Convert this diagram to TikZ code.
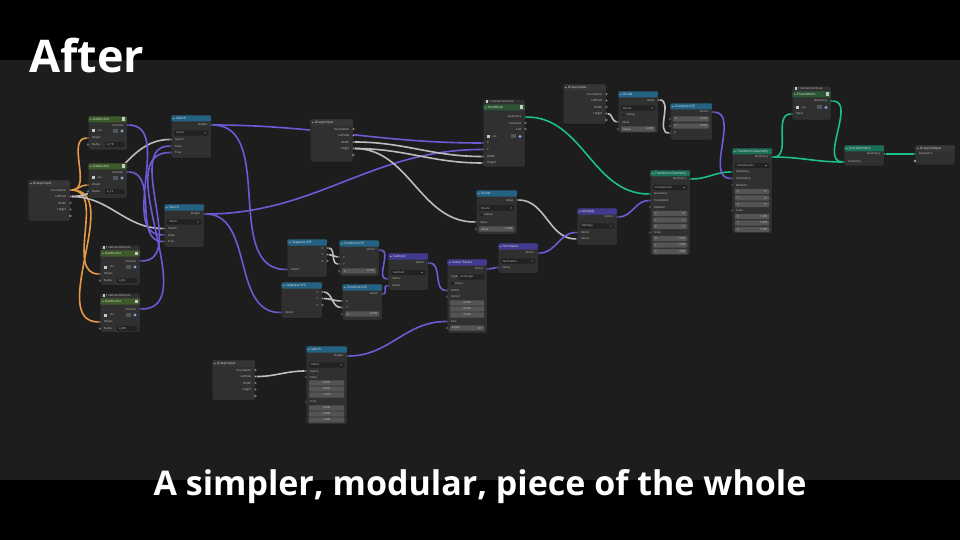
\documentclass[tikz,border=0pt]{standalone}
\usepackage{fontspec}
\setmainfont{Open Sans}
\usetikzlibrary{calc, positioning}
\pgfdeclarelayer{bg}
\pgfdeclarelayer{wires}
\pgfsetlayers{bg,wires,main}

\definecolor{panel}{HTML}{1D1D1D}
\definecolor{nodegray}{HTML}{303030}
\definecolor{nodeedge}{HTML}{141414}
\definecolor{labelgray}{HTML}{C8C8C8}
\definecolor{fieldgray}{HTML}{545454}
\definecolor{dropgray}{HTML}{222222}
\definecolor{hdrgray}{HTML}{363636}
\definecolor{convblue}{HTML}{246283}
\definecolor{vecpurple}{HTML}{413A8E}
\definecolor{anchorgreen}{HTML}{3D5A2A}
\definecolor{nestgreen}{HTML}{2C5634}
\definecolor{geomgreen}{HTML}{1B6E57}
\definecolor{vecc}{HTML}{6363C7}
\definecolor{floatc}{HTML}{A1A1A1}
\definecolor{geoc}{HTML}{00D6A3}
\definecolor{objc}{HTML}{ED9E5C}
\definecolor{strc}{HTML}{70B2FF}
\definecolor{boolc}{HTML}{CCA6D6}
\definecolor{iconblue}{HTML}{7FA8E0}
\definecolor{wvec}{HTML}{6B5BD6}
\definecolor{wfloat}{HTML}{BDBDBD}
\definecolor{wgeo}{HTML}{1DBE8E}
\definecolor{wobj}{HTML}{E69A45}

\newcommand\smallfont{\fontsize{2.8}{3}\selectfont}
\newcommand\headfont{\fontsize{3.2}{3.6}\selectfont}

% body and header: id, x, y, w, h, header colour, title, header offset
\newcommand\bnode[8]{%
  \node[nodebody, minimum width=#4, minimum height=#5] (#1) at (#2,#3) {};
  \fill[#6, rounded corners=1.2pt] ($(#1.north west)+(0.3,#8+0.3)$) rectangle ($(#1.north east)+(-0.3,#8+6.5)$);
  \draw[labelgray, line width=0.3pt] ($(#1.north west)+(2,#8+2.9)$) -- ++(0.8,0.9) -- ++(0.8,-0.9);
  \node[ttl] at ($(#1.north west)+(5,#8+3.4)$) {#7};}
\newcommand\grpicon[2]{%
  \fill[labelgray] ($(#1.north east)+(-5,#2+1.5)$) rectangle ++(3,3.5);}
\newcommand\namedtag[1]{%
  \fill[labelgray] ($(#1.north west)+(2.5,1.4)$) rectangle ++(2.2,2.5);
  \node[lbl] at ($(#1.north west)+(6,2.7)$) {1 Named Attribute};}
% sockets: node, id, dy, label, colour
\newcommand\outsock[5]{%
  \node[sock, fill=#5] (#2) at ($(#1.north east)+(0,#3)$) {};
  \node[lblr] at ($(#1.north east)+(-4,#3)$) {#4};}
\newcommand\insock[5]{%
  \node[sock, fill=#5] (#2) at ($(#1.north west)+(0,#3)$) {};
  \node[lbl] at ($(#1.north west)+(4,#3)$) {#4};}
% fields: node, dy, ...
\newcommand\valfield[4]{%
  \fill[fieldgray, rounded corners=0.8pt] ($(#1.north west)+(3,#2-2.6)$) rectangle ($(#1.north east)+(-3,#2+2.6)$);
  \node[lbl] at ($(#1.north west)+(5,#2)$) {#3};
  \node[lblr] at ($(#1.north east)+(-5,#2)$) {#4};}
\newcommand\midfield[3]{%
  \fill[fieldgray, rounded corners=0.8pt] ($(#1.north west)+(3,#2-2.6)$) rectangle ($(#1.north east)+(-3,#2+2.6)$);
  \node[lbl, anchor=center] at ($(#1.north)+(0,#2)$) {#3};}
\newcommand\dropdown[3]{%
  \fill[dropgray, rounded corners=0.8pt] ($(#1.north west)+(3,#2-2.6)$) rectangle ($(#1.north east)+(-3,#2+2.6)$);
  \node[lbl] at ($(#1.north west)+(5,#2)$) {#3};
  \draw[labelgray, line width=0.3pt] ($(#1.north east)+(-7,#2-0.4)$) -- ++(0.7,0.8) -- ++(0.7,-0.8);}
\newcommand\checkrow[3]{%
  \fill[dropgray] ($(#1.north west)+(4,#2-1.3)$) rectangle ++(2.6,2.6);
  \node[lbl] at ($(#1.north west)+(8,#2)$) {#3};}
\newcommand\namefield[3]{%
  \fill[dropgray, rounded corners=0.8pt] ($(#1.north west)+(17,#2-2.5)$) rectangle ($(#1.north east)+(-3,#2+2.5)$);
  \node[lbl] at ($(#1.north west)+(19,#2)$) {#3};}
\newcommand\iconrow[2]{%
  \fill[labelgray] ($(#1.north west)+(4,#2-1.5)$) rectangle ++(3,3);
  \node[lbl] at ($(#1.north west)+(8.5,#2)$) {- Ac..};
  \fill[fieldgray] ($(#1.north east)+(-14,#2-2)$) rectangle ++(5,4);
  \fill[iconblue] ($(#1.north east)+(-5.5,#2)$) circle (1.6);}
% repeated rows
\newcommand\girows[1]{%
  \outsock{#1}{#1-found}{10}{Foundation}{objc}
  \outsock{#1}{#1-left}{16.5}{LeftSide}{boolc}
  \outsock{#1}{#1-width}{23}{Width}{floatc}
  \outsock{#1}{#1-height}{29.5}{Height}{floatc}
  \node[sock, fill=nodegray, draw=labelgray] (#1-more) at ($(#1.north east)+(0,36)$) {};}
\newcommand\anchorrows[3]{%
  \outsock{#1}{#1-pos}{#2+9}{Position}{vecc}
  \iconrow{#1}{#2+15}
  \insock{#1}{#1-obj}{#2+22}{Object}{objc}
  \insock{#1}{#1-name}{#2+28.5}{Name}{strc}
  \namefield{#1}{#2+28.5}{#3}}
\newcommand\transrows[1]{%
  \outsock{#1}{#1-out}{9}{Geometry}{geoc}
  \dropdown{#1}{17.5}{Components}
  \insock{#1}{#1-geo}{24}{Geometry}{geoc}
  \insock{#1}{#1-trans}{30.5}{Translation}{vecc}
  \insock{#1}{#1-rot}{37}{Rotation}{vecc}
  \valfield{#1}{43.5}{X}{0°}
  \valfield{#1}{50}{Y}{0°}
  \valfield{#1}{56.5}{Z}{0°}
  \insock{#1}{#1-scale}{62.5}{Scale}{vecc}
  \valfield{#1}{68.5}{X}{1.000}
  \valfield{#1}{75}{Y}{1.000}
  \valfield{#1}{81.5}{Z}{1.000}}

\begin{document}
\begin{tikzpicture}[x=1pt, y=-1pt,
    nodebody/.style={draw=nodeedge, fill=nodegray, rounded corners=1.5pt, inner sep=0pt, anchor=north west, line width=0.4pt},
    ttl/.style={font=\headfont, text=white!90!black, inner sep=0pt, anchor=west},
    lbl/.style={font=\smallfont, text=labelgray, inner sep=0pt, anchor=west},
    lblr/.style={lbl, anchor=east},
    sock/.style={circle, draw=black!80, line width=0.25pt, inner sep=0pt, minimum size=2.3pt},
    wire/.style={line width=1.6pt},
    vecw/.style={wire, draw=wvec},
    floatw/.style={wire, draw=wfloat},
    geow/.style={wire, draw=wgeo},
    objw/.style={wire, draw=wobj}
  ]
  \useasboundingbox (0,0) rectangle (960,540);
  \begin{pgfonlayer}{bg}
    \fill[black] (0,0) rectangle (960,540);
    \fill[panel] (0,60) rectangle (960,480);
  \end{pgfonlayer}

  % Titles
  \node[anchor=base west, inner sep=0pt, text=white, font=\bfseries\fontsize{45}{50}\selectfont] (title) at (29,73) {After};
  \node[anchor=base, inner sep=0pt, text=white, font=\bfseries\fontsize{34}{38}\selectfont] (caption) at (480,495) {A simpler, modular, piece of the whole};

  % Left column
  \bnode{gi1}{28}{180}{42}{41}{hdrgray}{Group Input}{0}
  \girows{gi1}
  \bnode{ga1}{88}{116}{39}{34}{anchorgreen}{GetAnchor}{0}
  \grpicon{ga1}{0}
  \anchorrows{ga1}{0}{A\_TR}
  \bnode{ga2}{88}{163}{39}{35}{anchorgreen}{GetAnchor}{0}
  \grpicon{ga2}{0}
  \anchorrows{ga2}{0}{A\_TL}
  \bnode{ga3}{100}{245}{40}{40}{anchorgreen}{GetAnchor}{5}
  \namedtag{ga3}
  \grpicon{ga3}{5}
  \anchorrows{ga3}{7}{A\_BL}
  \bnode{ga4}{100}{293}{40}{39}{anchorgreen}{GetAnchor}{5}
  \namedtag{ga4}
  \grpicon{ga4}{5}
  \anchorrows{ga4}{7}{A\_BR}

  % Switches
  \bnode{sw1}{171}{115}{40}{43}{convblue}{Switch}{0}
  \outsock{sw1}{sw1-out}{10}{Output}{vecc}
  \dropdown{sw1}{18}{Vector}
  \insock{sw1}{sw1-sw}{24.5}{Switch}{boolc}
  \insock{sw1}{sw1-false}{31}{False}{vecc}
  \insock{sw1}{sw1-true}{37.5}{True}{vecc}
  \bnode{sw2}{164}{204}{40}{43}{convblue}{Switch}{0}
  \outsock{sw2}{sw2-out}{10}{Output}{vecc}
  \dropdown{sw2}{18}{Vector}
  \insock{sw2}{sw2-sw}{24.5}{Switch}{boolc}
  \insock{sw2}{sw2-false}{31}{False}{vecc}
  \insock{sw2}{sw2-true}{37.5}{True}{vecc}

  % Middle
  \bnode{gi2}{310}{119}{43}{43}{hdrgray}{Group Input}{0}
  \girows{gi2}
  \bnode{sep1}{287}{239}{40}{38}{convblue}{Separate XYZ}{0}
  \outsock{sep1}{sep1-x}{9}{X}{floatc}
  \outsock{sep1}{sep1-y}{15.5}{Y}{floatc}
  \outsock{sep1}{sep1-z}{22}{Z}{floatc}
  \insock{sep1}{sep1-vec}{30.5}{Vector}{vecc}
  \bnode{cx2}{339}{240}{40}{36}{convblue}{Combine XYZ}{0}
  \outsock{cx2}{cx2-vec}{10}{Vector}{vecc}
  \insock{cx2}{cx2-x}{17}{X}{floatc}
  \insock{cx2}{cx2-y}{24}{Y}{floatc}
  \insock{cx2}{cx2-z}{31}{}{floatc}
  \valfield{cx2}{31}{Z}{0.000}
  \bnode{sep2}{281}{282}{41}{36}{convblue}{Separate XYZ}{0}
  \outsock{sep2}{sep2-x}{10}{X}{floatc}
  \outsock{sep2}{sep2-y}{16.5}{Y}{floatc}
  \outsock{sep2}{sep2-z}{23}{Z}{floatc}
  \insock{sep2}{sep2-vec}{30.5}{Vector}{vecc}
  \bnode{cx3}{342}{284}{40}{36}{convblue}{Combine XYZ}{0}
  \outsock{cx3}{cx3-vec}{10}{Vector}{vecc}
  \insock{cx3}{cx3-x}{17}{X}{floatc}
  \insock{cx3}{cx3-y}{23.5}{Y}{floatc}
  \insock{cx3}{cx3-z}{30}{}{floatc}
  \valfield{cx3}{30}{Z}{0.000}
  \bnode{sub}{388}{253}{40}{37}{vecpurple}{Subtract}{0}
  \outsock{sub}{sub-out}{10}{Vector}{vecc}
  \dropdown{sub}{19.5}{Subtract}
  \insock{sub}{sub-v1}{26}{Vector}{vecc}
  \insock{sub}{sub-v2}{32.5}{Vector}{vecc}
  \bnode{vr}{447}{259}{40}{74}{vecpurple}{Vector Rotate}{0}
  \outsock{vr}{vr-out}{10}{Vector}{vecc}
  \node[lbl] (vr-type) at ($(vr.north west)+(4,18)$) {Type:};
  \fill[dropgray, rounded corners=0.8pt] ($(vr.north west)+(12,15.4)$) rectangle ($(vr.north east)+(-3,20.6)$);
  \node[lbl] (vr-mode) at ($(vr.north west)+(13.5,18)$) {AxisAngle};
  \checkrow{vr}{24.5}{Invert}
  \insock{vr}{vr-vec}{31.5}{Vector}{vecc}
  \insock{vr}{vr-center}{37.5}{Center}{vecc}
  \midfield{vr}{44}{0.000}
  \midfield{vr}{50}{0.000}
  \midfield{vr}{56}{0.000}
  \insock{vr}{vr-axis}{62.5}{Axis}{vecc}
  \insock{vr}{vr-angle}{69}{}{floatc}
  \valfield{vr}{69}{Angle}{90°}
  \bnode{norm}{498}{243}{40}{30}{vecpurple}{Normalize}{0}
  \outsock{norm}{norm-out}{10}{Vector}{vecc}
  \dropdown{norm}{18}{Normalize}
  \insock{norm}{norm-in}{24.5}{Vector}{vecc}
  \bnode{gi4}{212}{360}{43}{40}{hdrgray}{Group Input}{0}
  \girows{gi4}
  \bnode{sw3}{306}{346}{41}{78}{convblue}{Switch}{0}
  \outsock{sw3}{sw3-out}{10}{Output}{vecc}
  \dropdown{sw3}{19}{Vector}
  \insock{sw3}{sw3-sw}{25}{Switch}{boolc}
  \insock{sw3}{sw3-false}{31}{False}{vecc}
  \midfield{sw3}{37}{0.000}
  \midfield{sw3}{43}{0.000}
  \midfield{sw3}{49}{-1.000}
  \insock{sw3}{sw3-true}{56}{True}{vecc}
  \midfield{sw3}{62}{0.000}
  \midfield{sw3}{68}{0.000}
  \midfield{sw3}{74}{1.000}

  % Upper middle
  \bnode{na1}{483}{99}{42}{68}{nestgreen}{NestBlock}{5}
  \namedtag{na1}
  \grpicon{na1}{5}
  \outsock{na1}{na1-geo}{18}{Geometry}{geoc}
  \outsock{na1}{na1-fwd}{24}{Forwards}{floatc}
  \outsock{na1}{na1-left}{30}{Left}{floatc}
  \iconrow{na1}{37.5}
  \insock{na1}{na1-x}{44}{X}{floatc}
  \insock{na1}{na1-y}{50.5}{Y}{floatc}
  \insock{na1}{na1-width}{57.5}{Width}{floatc}
  \insock{na1}{na1-height}{64}{Height}{floatc}
  \bnode{div2}{476}{190}{41}{44}{convblue}{Divide}{0}
  \outsock{div2}{div2-out}{10}{Value}{floatc}
  \dropdown{div2}{18}{Divide}
  \checkrow{div2}{25}{Clamp}
  \insock{div2}{div2-val}{32}{Value}{floatc}
  \insock{div2}{div2-val2}{39}{}{floatc}
  \valfield{div2}{39}{Value}{2.000}
  \bnode{mul}{577}{208}{40}{37}{vecpurple}{Multiply}{0}
  \outsock{mul}{mul-out}{9}{Vector}{vecc}
  \dropdown{mul}{18}{Multiply}
  \insock{mul}{mul-v1}{24.5}{Vector}{vecc}
  \insock{mul}{mul-v2}{31}{Vector}{vecc}

  % Right side
  \bnode{gi3}{563}{84}{43}{40}{hdrgray}{Group Input}{0}
  \girows{gi3}
  \bnode{div1}{618}{91}{40}{42}{convblue}{Divide}{0}
  \outsock{div1}{div1-out}{9}{Value}{floatc}
  \dropdown{div1}{17}{Divide}
  \checkrow{div1}{24}{Clamp}
  \insock{div1}{div1-val}{31}{Value}{floatc}
  \insock{div1}{div1-val2}{38}{}{floatc}
  \valfield{div1}{38}{Value}{2.000}
  \bnode{cx1}{670}{103}{42}{37}{convblue}{Combine XYZ}{0}
  \outsock{cx1}{cx1-vec}{9}{Vector}{vecc}
  \insock{cx1}{cx1-x}{16}{}{floatc}
  \valfield{cx1}{16}{X}{0.000}
  \insock{cx1}{cx1-y}{23}{}{floatc}
  \valfield{cx1}{23}{Y}{0.000}
  \insock{cx1}{cx1-z}{30}{Z}{floatc}
  \bnode{tgm}{650}{170}{40}{85}{geomgreen}{Transform Geometry}{0}
  \transrows{tgm}
  \bnode{tgr}{732}{148}{40}{85}{geomgreen}{Transform Geometry}{0}
  \transrows{tgr}
  \bnode{na2}{792}{86}{39}{34}{nestgreen}{EnsureMesh}{5}
  \namedtag{na2}
  \grpicon{na2}{5}
  \outsock{na2}{na2-geo}{15}{Geometry}{geoc}
  \iconrow{na2}{21.5}
  \insock{na2}{na2-in}{28}{Input}{geoc}
  \bnode{join}{844}{145}{40}{21}{geomgreen}{Join Geometry}{0}
  \outsock{join}{join-out}{9}{Geometry}{geoc}
  \insock{join}{join-in}{17}{Geometry}{geoc}
  \bnode{gout}{915}{145}{40}{20}{hdrgray}{Group Output}{0}
  \insock{gout}{gout-geo}{9}{Geometry}{geoc}
  \node[sock, fill=nodegray, draw=labelgray] (gout-more) at ($(gout.north west)+(0,16)$) {};

  % Connectors
  \begin{pgfonlayer}{wires}
    \draw[objw] (gi1-found) to[out=0, in=180] (ga1-obj);
    \draw[objw] (gi1-found) to[out=0, in=180] (ga2-obj);
    \draw[objw] (gi1-found) to[out=0, in=180] (ga3-obj);
    \draw[objw] (gi1-found) to[out=0, in=180] (ga4-obj);
    \draw[floatw] (gi1-left) to[out=0, in=180] (sw1-sw);
    \draw[floatw] (gi1-left) to[out=0, in=180] (sw2-sw);
    \draw[vecw] (ga1-pos) to[out=0, in=180] (sw2-false);
    \draw[vecw] (ga2-pos) to[out=0, in=180] (sw2-true);
    \draw[vecw] (ga3-pos) to[out=0, in=180] (sw1-false);
    \draw[vecw] (ga4-pos) to[out=0, in=180] (sw1-true);
    \draw[vecw] (sw1-out) to[out=0, in=180] (na1-x);
    \draw[vecw] (sw1-out) to[out=0, in=180] (sep1-vec);
    \draw[vecw] (sw2-out) to[out=0, in=180] (na1-y);
    \draw[vecw] (sw2-out) to[out=0, in=180] (sep2-vec);
    \draw[floatw] (gi2-width) to[out=0, in=180] (na1-width);
    \draw[floatw] (gi2-height) to[out=0, in=180] (na1-height);
    \draw[floatw] (gi2-height) to[out=0, in=180] (div2-val);
    \draw[floatw] (sep1-x) to[out=0, in=180] (cx2-y);
    \draw[floatw] (sep1-y) to[out=0, in=180] (cx2-x);
    \draw[floatw] (sep2-x) to[out=0, in=180] (cx3-y);
    \draw[floatw] (sep2-y) to[out=0, in=180] (cx3-x);
    \draw[vecw] (cx2-vec) to[out=0, in=180] (sub-v1);
    \draw[vecw] (cx3-vec) to[out=0, in=180] (sub-v2);
    \draw[vecw] (sub-out) to[out=0, in=180] (vr-vec);
    \draw[vecw] (vr-out) to[out=0, in=180] (norm-in);
    \draw[floatw] (gi4-left) to[out=0, in=180] (sw3-sw);
    \draw[vecw] (sw3-out) to[out=0, in=180] (vr-axis);
    \draw[floatw] (div2-out) to[out=0, in=180] (mul-v2);
    \draw[vecw] (norm-out) to[out=0, in=180] (mul-v1);
    \draw[vecw] (mul-out) to[out=0, in=180] (tgm-trans);
    \draw[geow] (na1-geo) to[out=0, in=180] (tgm-geo);
    \draw[geow] (tgm-out) to[out=0, in=180] (tgr-geo);
    \draw[floatw] (gi3-height) to[out=0, in=180] (div1-val);
    \draw[floatw] (div1-out) to[out=0, in=180] (cx1-z);
    \draw[vecw] (cx1-vec) to[out=0, in=180] (tgr-trans);
    \draw[geow] (tgr-out) to[out=0, in=180] (na2-in);
    \draw[geow] (tgr-out) to[out=0, in=180] (join-in);
    \draw[geow] (na2-geo) to[out=0, in=180] (join-in);
    \draw[geow] (join-out) to[out=0, in=180] (gout-geo);
  \end{pgfonlayer}
\end{tikzpicture}
\end{document}
